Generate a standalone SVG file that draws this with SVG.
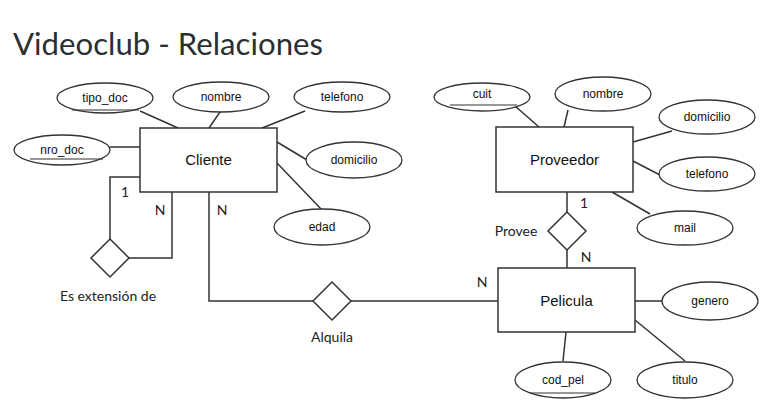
<svg xmlns="http://www.w3.org/2000/svg" width="770" height="410" viewBox="0 0 770 410">
<style>
.ent{fill:#fff;stroke:#333;stroke-width:1.5}
.att{fill:#fff;stroke:#333;stroke-width:1.3}
.rel{fill:#fff;stroke:#333;stroke-width:1.5}
.ln{fill:none;stroke:#333;stroke-width:1.5}
.ul{stroke:#333;stroke-width:1.2}
.t{font-family:"Liberation Sans",Arial,sans-serif;font-size:12px;fill:#111;text-anchor:middle}
.te{font-family:"Liberation Sans",Arial,sans-serif;font-size:15px;fill:#111;text-anchor:middle}
.tl{font-family:Lato,"Open Sans",sans-serif;font-size:14px;fill:#222;text-anchor:middle}
.title{font-family:Lato,"Open Sans",sans-serif;font-size:30px;fill:#2b2f31}
</style>
<rect width="770" height="410" fill="#fff"/>
<text class="title" x="13" y="55" textLength="310" lengthAdjust="spacingAndGlyphs">Videoclub - Relaciones</text>
<g id="connectors">
<line class="ln" x1="140" y1="111" x2="178" y2="128"/>
<line class="ln" x1="220" y1="112" x2="209" y2="128"/>
<line class="ln" x1="305" y1="111" x2="262" y2="128"/>
<line class="ln" x1="110" y1="147" x2="140" y2="147"/>
<line class="ln" x1="277" y1="142" x2="307" y2="160"/>
<line class="ln" x1="277" y1="163" x2="322" y2="210"/>
<polyline class="ln" points="140,177 110,177 110,239"/>
<polyline class="ln" points="129,258 172,258 172,192"/>
<polyline class="ln" points="209,192 209,301 313,301"/>
<line class="ln" x1="351" y1="301" x2="498" y2="301"/>
<line class="ln" x1="515" y1="106" x2="539" y2="127"/>
<line class="ln" x1="568" y1="110" x2="564" y2="127"/>
<line class="ln" x1="633" y1="142" x2="672" y2="131"/>
<line class="ln" x1="633" y1="161" x2="660" y2="175"/>
<line class="ln" x1="612" y1="192" x2="650" y2="214"/>
<line class="ln" x1="567" y1="192" x2="567" y2="212"/>
<line class="ln" x1="567" y1="250" x2="567" y2="268"/>
<line class="ln" x1="635" y1="301" x2="662" y2="301"/>
<line class="ln" x1="635" y1="320" x2="685" y2="361"/>
<line class="ln" x1="566" y1="332" x2="563" y2="361"/>
</g>
<g id="cliente"><rect class="ent" x="140" y="128" width="137" height="64"/><text class="te" x="208.5" y="165">Cliente</text></g>
<g id="proveedor"><rect class="ent" x="496" y="127" width="137" height="65"/><text class="te" x="564.5" y="165">Proveedor</text></g>
<g id="pelicula"><rect class="ent" x="498" y="268" width="137" height="64"/><text class="te" x="566.5" y="306">Pelicula</text></g>
<g id="att-tipo_doc"><ellipse class="att" cx="105" cy="98" rx="48" ry="15"/><line class="ul" x1="72" y1="110" x2="139" y2="110"/><text class="t" x="105" y="102">tipo_doc</text></g>
<g id="att-nombre-c"><ellipse class="att" cx="221" cy="97" rx="48" ry="15"/><text class="t" x="221" y="101">nombre</text></g>
<g id="att-telefono-c"><ellipse class="att" cx="342" cy="97" rx="48" ry="15"/><text class="t" x="342" y="101">telefono</text></g>
<g id="att-nro_doc"><ellipse class="att" cx="62" cy="150" rx="48" ry="15"/><line class="ul" x1="30" y1="159" x2="103" y2="159"/><text class="t" x="62" y="154">nro_doc</text></g>
<g id="att-domicilio-c"><ellipse class="att" cx="354" cy="160" rx="48" ry="18"/><text class="t" x="354" y="164">domicilio</text></g>
<g id="att-edad"><ellipse class="att" cx="322" cy="227" rx="48" ry="18"/><text class="t" x="322" y="231">edad</text></g>
<g id="att-cuit"><ellipse class="att" cx="482" cy="97" rx="48" ry="14"/><line class="ul" x1="450" y1="105" x2="517" y2="105"/><text class="t" x="482" y="98">cuit</text></g>
<g id="att-nombre-p"><ellipse class="att" cx="603" cy="94" rx="48" ry="17"/><text class="t" x="603" y="98">nombre</text></g>
<g id="att-domicilio-p"><ellipse class="att" cx="707" cy="117" rx="48" ry="17"/><text class="t" x="707" y="121">domicilio</text></g>
<g id="att-telefono-p"><ellipse class="att" cx="707" cy="174" rx="48" ry="17"/><text class="t" x="707" y="178">telefono</text></g>
<g id="att-mail"><ellipse class="att" cx="685" cy="228" rx="48" ry="17"/><text class="t" x="685" y="232">mail</text></g>
<g id="att-genero"><ellipse class="att" cx="710" cy="301" rx="48" ry="19"/><text class="t" x="710" y="305">genero</text></g>
<g id="att-titulo"><ellipse class="att" cx="685" cy="380" rx="48" ry="18"/><text class="t" x="685" y="384">titulo</text></g>
<g id="att-cod_pel"><ellipse class="att" cx="563" cy="380" rx="48" ry="18"/><line class="ul" x1="530" y1="393" x2="595" y2="393"/><text class="t" x="563" y="384">cod_pel</text></g>
<g id="rel-extension"><polygon class="rel" points="110,239 129,258 110,277 91,258"/><text class="tl" x="108" y="301">Es extensión de</text></g>
<g id="rel-alquila"><polygon class="rel" points="332,282 351,301 332,320 313,301"/><text class="tl" x="332" y="342">Alquila</text></g>
<g id="rel-provee"><polygon class="rel" points="567,212 586,231 567,250 548,231"/><text class="tl" x="516" y="236">Provee</text></g>
<g id="cardinalities">
<text class="tl" x="125" y="197">1</text>
<text class="tl" x="160" y="215">N</text>
<text class="tl" x="222" y="215">N</text>
<text class="tl" x="584" y="208">1</text>
<text class="tl" x="586" y="262">N</text>
<text class="tl" x="482" y="287">N</text>
</g>
</svg>
